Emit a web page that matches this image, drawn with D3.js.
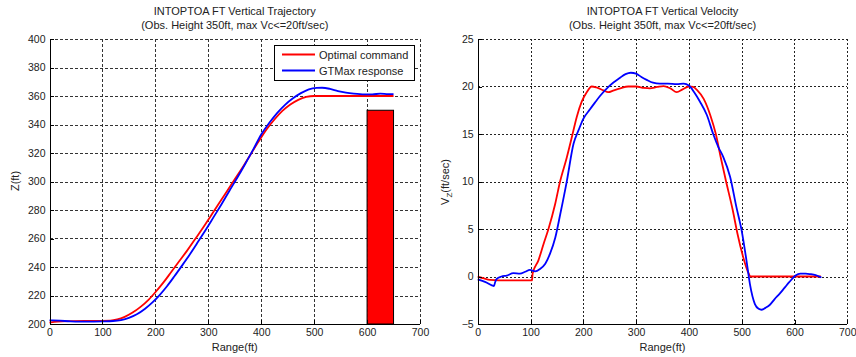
<!DOCTYPE html>
<html>
<head>
<meta charset="utf-8">
<script src="https://cdn.jsdelivr.net/npm/d3@7"></script>
<style>
  html, body { margin: 0; padding: 0; background: #fff; }
  svg { display: block; font-family: "Liberation Sans", Arial, sans-serif; }
</style>
</head>
<body>
<svg id="chart" width="856" height="357"></svg>
<script>
// Shared tick values
const rangeTicks = [0, 100, 200, 300, 400, 500, 600, 700];
const zTicks = [200, 220, 240, 260, 280, 300, 320, 340, 360, 380, 400];
const vzTicks = [-5, 0, 5, 10, 15, 20, 25];

// Vertical trajectory: [range ft, height ft]
const trajCommand = [
  [0,201.0],[15,201.6],[40,202.0],[80,202.2],[115,202.4],[128,203.2],[142,205],[157,208],
  [172,212],[187,217],[200,222.3],[215,229],[230,236.5],[245,244],[260,251.5],[275,259.5],
  [290,267.5],[305,276],[320,284.5],[335,293],[350,301.5],[365,310],[380,319],[395,328],
  [410,336.5],[425,343.5],[440,349.5],[455,354],[470,357.3],[485,359.3],[500,360],[650,360]
];
const trajResponse = [
  [0,202.6],[20,202.3],[40,201.9],[70,201.6],[100,201.8],[120,202.1],[135,202.8],[150,204.3],
  [165,206.8],[180,210.5],[195,215.3],[208,220.3],[222,226.5],[236,233.5],[250,240.8],[265,248.8],
  [280,257.3],[295,266],[310,275],[325,284],[340,293.5],[355,302.8],[370,312.5],[385,322.5],
  [400,333],[415,341],[430,348],[445,353.8],[460,358.4],[475,362],[490,364.7],[505,365.7],
  [515,365.8],[530,365],[545,363.5],[560,362.4],[575,361.7],[595,361.2],[610,361.2],[625,361.6],
  [640,361.3],[650,361.3]
];

// Obstacle
const obstacleRange = [600, 650];
const obstacleHeight = 350;

// Vertical velocity: [range ft, Vz ft/sec]
const velCommand = [
  [0,0],[12,-0.2],[23,-0.35],[40,-0.4],[70,-0.4],[103,-0.4],[104,0.3],[115,1.7],[124.6,3.4],
  [134,5],[146.6,7.6],[156,10],[168.6,12.5],[178,14.6],[187.6,16.8],[197,18.4],[206.5,19.4],
  [216,20],[225,19.9],[238,19.6],[247,19.4],[258,19.6],[270,19.8],[285,20],[300,20],[315,19.85],
  [326,19.8],[340,19.95],[352,20.05],[365,19.8],[377,19.4],[388,19.7],[400,20],[408,19.95],
  [416,19.6],[428,18.7],[441,16.9],[451,15],[460,12.6],[470,10.1],[483,7],[492,4.5],[502,2.2],
  [511,0.6],[517.5,0],[650,0]
];
const velResponse = [
  [0,-0.3],[15,-0.6],[30.9,-1.0],[33,-0.6],[36,-0.25],[45,0],[55,0.1],[67.6,0.35],[80,0.3],
  [90,0.5],[99,0.7],[108.6,0.55],[118,0.8],[128,1.35],[137,2.4],[147,4.1],[156.5,6.6],[169,10.1],
  [181.6,14],[191,15.4],[200,16.6],[212.7,17.6],[222,18.3],[231.6,19.0],[250,20.1],[269,20.9],
  [280,21.3],[290,21.45],[300,21.35],[310,21.0],[320,20.7],[332,20.4],[345,20.3],[360,20.3],
  [377,20.25],[390,20.3],[400,20.1],[410,19.4],[421,18.4],[434,17.0],[446,15.0],[456,13.6],
  [465,12.6],[478,10.5],[490,7.3],[500,4.8],[509,1.7],[515.6,-0.8],[525,-2.9],[532,-3.4],
  [537.6,-3.5],[545,-3.3],[553,-3.0],[562,-2.4],[572,-1.8],[581,-1.2],[590,-0.6],[602,0.1],
  [611,0.3],[621,0.3],[630,0.25],[640,0.15],[651,-0.1]
];

const svg = d3.select("#chart");
const plotTop = 39, plotBottom = 324;

function drawPanel(opts) {
  const x = d3.scaleLinear().domain([0, 700]).range([opts.left, opts.right]);
  const y = d3.scaleLinear().domain(opts.yDomain).range([plotBottom, plotTop]);
  const g = svg.append("g");

  // Grid
  const grid = g.append("g")
    .attr("stroke", opts.gridColor)
    .attr("stroke-width", 1)
    .attr("stroke-dasharray", opts.dash)
    .attr("shape-rendering", "crispEdges");
  grid.selectAll("line.vx").data(rangeTicks.slice(1)).join("line")
    .attr("x1", d => Math.round(x(d)) + 0.5).attr("x2", d => Math.round(x(d)) + 0.5)
    .attr("y1", plotTop).attr("y2", plotBottom);
  grid.selectAll("line.hy").data(opts.yTicks.slice(1)).join("line")
    .attr("y1", d => Math.round(y(d)) + 0.5).attr("y2", d => Math.round(y(d)) + 0.5)
    .attr("x1", opts.left).attr("x2", opts.right);

  opts.extra && opts.extra(g, x, y);

  // Series
  const line = d3.line().x(d => x(d[0])).y(d => y(d[1])).curve(d3.curveMonotoneX);
  g.append("path").datum(opts.command)
    .attr("fill", "none").attr("stroke", "#ff0000").attr("stroke-width", 1.8)
    .attr("stroke-linejoin", "round").attr("d", line);
  g.append("path").datum(opts.response)
    .attr("fill", "none").attr("stroke", "#0000ff").attr("stroke-width", 1.8)
    .attr("stroke-linejoin", "round").attr("d", line);

  // Axes
  const xAxis = g.append("g").attr("transform", `translate(0,${plotBottom})`)
    .call(d3.axisBottom(x).tickValues(rangeTicks).tickSize(-4).tickPadding(5).tickFormat(d3.format("d")));
  const yAxis = g.append("g").attr("transform", `translate(${opts.left},0)`)
    .call(d3.axisLeft(y).tickValues(opts.yTicks).tickSize(-4).tickPadding(4).tickFormat(d3.format("d")));
  [xAxis, yAxis].forEach(a => {
    a.selectAll("path").attr("stroke", "#000").attr("stroke-width", 1).attr("shape-rendering", "crispEdges");
    a.selectAll("line").attr("stroke", "#000").attr("shape-rendering", "crispEdges");
    a.selectAll("text").attr("fill", "#222").style("font-size", "10.5px")
      .style("font-family", "'Liberation Sans', Arial, sans-serif");
  });
  xAxis.select(".domain").attr("d", `M${opts.left},0.5H${opts.right}`);

  // Titles
  const cx = (opts.left + opts.right) / 2;
  g.append("text").attr("x", cx).attr("y", 15).attr("text-anchor", "middle")
    .style("font-size", "11px").attr("fill", "#222").text(opts.title);
  g.append("text").attr("x", cx).attr("y", 29).attr("text-anchor", "middle")
    .style("font-size", "11px").attr("fill", "#222").text("(Obs. Height 350ft, max Vc<=20ft/sec)");
  g.append("text").attr("x", cx).attr("y", 351).attr("text-anchor", "middle")
    .style("font-size", "11px").attr("fill", "#222").text("Range(ft)");
  opts.yLabel(g);
}

// Left: vertical trajectory
drawPanel({
  left: 49.5, right: 420,
  yDomain: [200, 400], yTicks: zTicks,
  gridColor: "#333", dash: "3,2",
  command: trajCommand, response: trajResponse,
  title: "INTOPTOA FT Vertical Trajectory",
  extra: (g, x, y) => {
    g.append("rect")
      .attr("x", x(obstacleRange[0])).attr("width", x(obstacleRange[1]) - x(obstacleRange[0]))
      .attr("y", y(obstacleHeight)).attr("height", y(200) - y(obstacleHeight))
      .attr("fill", "#ff0000").attr("stroke", "#000").attr("stroke-width", 1);
  },
  yLabel: g => {
    g.append("text").attr("transform", "translate(19,181) rotate(-90)")
      .attr("text-anchor", "middle").style("font-size", "11px").attr("fill", "#222").text("Z(ft)");
    // Legend
    const lg = g.append("g");
    lg.append("rect").attr("x", 274.5).attr("y", 45.5).attr("width", 140).attr("height", 35)
      .attr("fill", "#fff").attr("stroke", "#000").attr("stroke-width", 1);
    const items = [["Optimal command", "#ff0000"], ["GTMax response", "#0000ff"]];
    items.forEach((it, i) => {
      const yy = 54.5 + i * 16;
      lg.append("line").attr("x1", 282).attr("x2", 315).attr("y1", yy).attr("y2", yy)
        .attr("stroke", it[1]).attr("stroke-width", 1.8);
      lg.append("text").attr("x", 319).attr("y", yy + 4).style("font-size", "11px")
        .attr("fill", "#222").text(it[0]);
    });
  }
});

// Right: vertical velocity
drawPanel({
  left: 477.7, right: 847.3,
  yDomain: [-5, 25], yTicks: vzTicks,
  gridColor: "#222", dash: "2,2",
  command: velCommand, response: velResponse,
  title: "INTOPTOA FT Vertical Velocity",
  yLabel: g => {
    const t = g.append("text").attr("transform", "translate(449,182) rotate(-90)")
      .attr("text-anchor", "middle").style("font-size", "11px").attr("fill", "#222");
    t.append("tspan").text("V");
    t.append("tspan").attr("dy", 3).style("font-size", "8px").text("Z");
    t.append("tspan").attr("dy", -3).text("(ft/sec)");
  }
});
</script>
</body>
</html>
